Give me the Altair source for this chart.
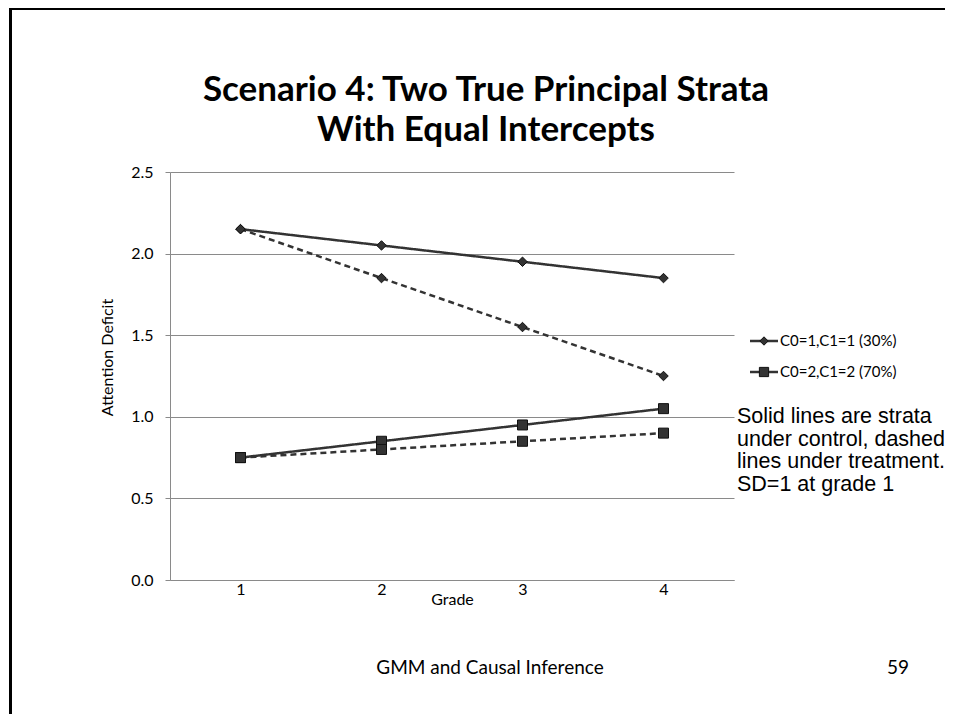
import altair as alt
import pandas as pd

# ---------------- data ----------------
grades = ["1", "2", "3", "4"]
s1_control = [2.15, 2.05, 1.95, 1.85]
s1_treatment = [2.15, 1.85, 1.55, 1.25]
s2_control = [0.75, 0.85, 0.95, 1.05]
s2_treatment = [0.75, 0.80, 0.85, 0.90]
strata = ["C0=1,C1=1 (30%)", "C0=2,C1=2 (70%)"]
conditions = ["Control", "Treatment"]
y_ticks = [0.0, 0.5, 1.0, 1.5, 2.0, 2.5]

title_lines = ["Scenario 4: Two True Principal Strata", "With Equal Intercepts"]
note_lines = ["Solid lines are strata", "under control, dashed",
              "lines under treatment.", "SD=1 at grade 1"]
footer_text = "GMM and Causal Inference"
page_number = "59"

rows = []
for stratum, cond, vals in [
    (strata[0], conditions[0], s1_control),
    (strata[0], conditions[1], s1_treatment),
    (strata[1], conditions[0], s2_control),
    (strata[1], conditions[1], s2_treatment),
]:
    for g, v in zip(grades, vals):
        rows.append({"Grade": g, "Value": v, "Stratum": stratum,
                     "Condition": cond, "Series": stratum + " | " + cond})
df = pd.DataFrame(rows)

INK = "#333333"
GRID = "#8a8a8a"
CAL = "Lato"

x_enc = alt.X("Grade:N", sort=grades,
              scale=alt.Scale(type="point", padding=0.5),
              axis=alt.Axis(title="Grade", labelAngle=0, ticks=False,
                            domainColor=GRID, labelFont=CAL, labelFontSize=16,
                            labelColor="#000000", labelPadding=1,
                            titleFont=CAL, titleFontSize=16, titleFontWeight="normal",
                            titleColor="#000000", titleY=11, titleBaseline="top"))
y_enc = alt.Y("Value:Q", scale=alt.Scale(domain=[0, 2.5], nice=False),
              axis=alt.Axis(title="Attention Deficit", values=y_ticks, format=".1f",
                            domainColor=GRID, tickColor=GRID, tickSize=5,
                            gridColor=GRID, gridOpacity=1, labelFont=CAL,
                            labelFontSize=16, labelColor="#000000", labelPadding=12,
                            titleFont=CAL, titleFontSize=16, titleFontWeight="normal",
                            titleColor="#000000", titleX=-63, titleY=185,
                            titleBaseline="middle"))

base = alt.Chart(df)

lines = base.mark_line(strokeWidth=2.5, color=INK).encode(
    x=x_enc, y=y_enc,
    detail="Series:N",
    strokeDash=alt.StrokeDash("Condition:N",
                              scale=alt.Scale(domain=conditions, range=[[1, 0], [6, 4]]),
                              legend=None),
)

points = base.mark_point(filled=True, fill=INK, stroke="#111111", strokeWidth=1,
                         opacity=1).encode(
    x=alt.X("Grade:N", sort=grades),
    y="Value:Q",
    shape=alt.Shape("Stratum:N", scale=alt.Scale(domain=strata, range=["diamond", "square"]),
                    legend=None),
    size=alt.Size("Stratum:N", scale=alt.Scale(domain=strata, range=[90, 100]), legend=None),
)

one = pd.DataFrame({"k": [0]})


def text_layer(txt, x, y, size, font=CAL, weight="normal", align="center",
               baseline="middle", line_height=None):
    kw = dict(font=font, fontSize=size, fontWeight=weight, align=align,
              baseline=baseline, color="#000000")
    if line_height is not None:
        kw["lineHeight"] = line_height
    return alt.Chart(one).mark_text(**kw).encode(
        x=alt.value(x), y=alt.value(y), text=alt.value(txt))


# manual legend (line + marker + label)
legend_layers = []
legend_y = [169, 200]
legend_shapes = ["diamond", "square"]
legend_sizes = [70, 85]
for i, s in enumerate(strata):
    legend_layers.append(alt.Chart(one).mark_rule(color=INK, strokeWidth=2.5).encode(
        x=alt.value(580), x2=alt.value(608), y=alt.value(legend_y[i])))
    legend_layers.append(alt.Chart(one).mark_point(
        filled=True, fill=INK, stroke="#111111", strokeWidth=1, opacity=1,
        shape=legend_shapes[i], size=legend_sizes[i]).encode(
        x=alt.value(594), y=alt.value(legend_y[i])))
    legend_layers.append(text_layer(s, 610, legend_y[i], 15, align="left"))

# slide border
border_left = alt.Chart(one).mark_rule(color="#000000", strokeWidth=3).encode(
    x=alt.value(-159.5), y=alt.value(-165), y2=alt.value(560))
border_top = alt.Chart(one).mark_rule(color="#000000", strokeWidth=3).encode(
    x=alt.value(-161), x2=alt.value(800), y=alt.value(-163.5))

title1 = text_layer(title_lines[0], 316, -82, 35, weight="bold")
title2 = text_layer(title_lines[1], 316, -42, 35, weight="bold")
note = text_layer(note_lines, 567, 234, 21.5, font="Liberation Sans", align="left",
                  baseline="top", line_height=22.5)
footer = text_layer(footer_text, 320, 496, 19)
pnum = text_layer(page_number, 728, 496, 19)

chart = alt.layer(
    lines, points, *legend_layers, border_left, border_top,
    title1, title2, note, footer, pnum
).properties(
    width=564, height=408,
    autosize=alt.AutoSizeParams(type="none"),
    padding={"left": 162, "top": 164, "right": 211, "bottom": 134},
    background="white",
).configure_view(stroke=None)

chart.save("out.html", embed_options={"renderer": "svg", "actions": False})
